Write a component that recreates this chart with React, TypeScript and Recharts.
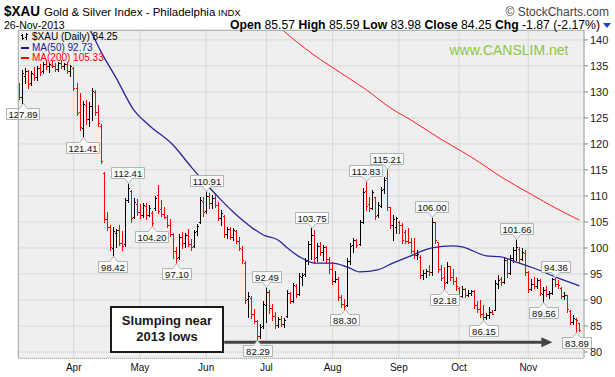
import React from "react";
import {
  ComposedChart,
  Bar,
  Line,
  XAxis,
  YAxis,
  CartesianGrid,
  ReferenceLine,
  ReferenceDot,
} from "recharts";

const FONT = "'Liberation Sans', Arial, sans-serif";

// x axis: first trading day of each month (bar index) and its label
const monthLabels = ["Apr", "May", "Jun", "Jul", "Aug", "Sep", "Oct", "Nov"];
const monthStartIdx = [18, 40, 62, 82, 104, 126, 146, 169];
const priceTicks = [80, 85, 90, 95, 100, 105, 110, 115, 120, 125, 130, 135, 140];

// daily bars 5-Mar-2013 .. 26-Nov-2013 : [open, high, low, close]
const bars: number[][] = [
  [131.2, 131.7, 128.6, 129.0], [129.0, 134.3, 127.89, 133.6], [133.0, 134.6, 131.8, 134.0],
  [134.0, 134.2, 130.8, 131.6], [131.8, 134.0, 131.4, 133.6], [133.4, 134.8, 132.3, 132.8],
  [132.8, 135.0, 132.2, 134.6], [134.6, 135.4, 133.3, 133.8], [134.0, 135.8, 133.6, 135.4],
  [135.4, 136.2, 134.4, 134.9], [134.9, 135.6, 133.8, 135.4], [135.2, 136.0, 134.8, 135.0],
  [135.0, 135.6, 134.0, 134.4], [134.4, 135.8, 134.0, 135.5], [135.5, 136.1, 134.6, 135.0],
  [135.0, 135.6, 134.4, 135.4], [135.4, 135.8, 133.6, 134.0], [134.0, 135.2, 133.0, 134.9],
  // Apr
  [134.5, 134.8, 130.4, 130.8], [130.8, 131.7, 125.5, 126.0], [126.2, 129.8, 122.6, 123.2],
  [123.0, 128.2, 121.41, 127.6], [127.5, 128.5, 123.8, 124.8], [124.8, 128.0, 123.5, 127.2],
  [127.2, 130.8, 124.6, 130.2], [130.0, 130.4, 125.6, 126.2], [126.2, 127.4, 123.4, 124.0],
  [123.5, 123.8, 116.3, 116.8], [114.4, 114.6, 105.0, 105.6], [105.6, 107.0, 103.5, 104.0],
  [104.0, 104.4, 99.6, 100.2], [100.0, 104.0, 98.42, 103.2], [102.8, 103.6, 100.2, 103.4],
  [103.4, 104.4, 100.6, 101.0], [101.0, 103.2, 99.6, 100.4], [100.8, 109.6, 100.4, 109.2],
  [109.2, 112.41, 108.8, 111.6], [111.0, 111.2, 105.0, 105.8], [106.0, 109.6, 105.8, 108.8],
  // May
  [108.5, 109.4, 106.4, 107.0], [107.0, 108.4, 105.8, 106.4], [106.4, 108.6, 106.0, 108.2],
  [108.0, 108.6, 105.6, 106.4], [106.4, 108.2, 106.2, 107.6], [106.8, 107.2, 104.2, 104.8],
  [107.6, 110.0, 107.3, 109.6], [110.2, 112.2, 106.8, 107.2], [107.4, 109.2, 106.2, 106.6],
  [106.6, 107.8, 105.8, 106.0], [106.0, 106.3, 104.0, 104.4], [104.4, 105.5, 102.3, 102.6],
  [102.6, 102.9, 98.0, 99.4], [99.4, 100.2, 97.1, 98.0], [98.2, 102.6, 97.8, 102.2],
  [102.2, 103.0, 100.0, 101.0], [101.0, 102.8, 100.2, 102.4], [102.4, 103.6, 100.4, 100.8],
  [100.8, 101.8, 99.6, 100.2], [100.4, 103.4, 100.2, 103.0], [103.2, 104.6, 102.4, 104.2],
  [105.0, 109.8, 104.8, 109.2], [109.0, 109.8, 106.2, 107.0],
  // Jun
  [107.2, 110.91, 106.8, 110.0], [110.0, 110.5, 107.6, 108.6], [108.6, 110.2, 107.6, 109.6],
  [109.6, 110.4, 107.8, 108.2], [108.2, 108.8, 105.4, 105.8], [105.8, 107.3, 104.4, 106.8],
  [106.2, 106.3, 102.1, 102.6], [102.6, 104.0, 102.0, 103.6], [103.6, 104.0, 101.8, 102.2],
  [102.2, 103.8, 101.6, 103.4], [103.2, 103.4, 101.0, 101.4], [101.4, 102.2, 99.6, 100.0],
  [99.8, 100.4, 97.2, 97.6], [97.2, 97.4, 89.4, 90.0], [90.2, 91.5, 86.8, 90.8],
  [90.4, 90.8, 86.6, 87.4], [87.4, 88.2, 85.6, 86.0], [86.0, 86.2, 82.29, 83.0],
  [83.0, 85.4, 82.6, 84.8], [85.0, 89.8, 84.6, 89.2],
  // Jul
  [89.0, 92.49, 85.8, 91.6], [91.6, 91.9, 87.5, 88.4], [88.4, 89.2, 86.2, 87.0],
  [87.0, 87.7, 84.6, 85.2], [85.2, 86.8, 84.8, 86.4], [86.4, 86.9, 85.0, 85.4],
  [85.4, 86.6, 84.8, 86.2], [87.0, 91.9, 86.7, 91.4], [91.4, 91.6, 89.4, 89.8],
  [89.8, 93.3, 89.6, 92.8], [92.6, 93.0, 90.6, 91.2], [91.2, 95.2, 91.0, 94.6],
  [94.4, 95.2, 92.8, 94.8], [95.0, 98.0, 94.6, 97.4], [97.6, 101.4, 97.0, 100.8],
  [100.8, 103.75, 97.8, 102.4], [102.4, 103.4, 97.2, 98.0], [98.2, 101.0, 97.4, 100.4],
  [100.4, 101.2, 98.7, 99.2], [99.2, 100.6, 97.6, 100.2], [100.2, 100.4, 97.2, 97.8],
  [97.8, 98.3, 95.2, 96.0],
  // Aug
  [96.0, 97.3, 93.0, 93.6], [93.6, 95.5, 93.4, 94.0], [94.0, 94.4, 90.0, 90.6],
  [90.6, 91.0, 88.6, 89.2], [89.2, 90.2, 88.3, 88.8], [89.0, 98.0, 88.9, 97.4],
  [97.4, 101.0, 97.0, 100.4], [100.6, 102.0, 99.2, 101.6], [101.6, 101.8, 100.2, 100.6],
  [100.8, 105.4, 100.6, 105.0], [105.0, 111.5, 104.8, 110.8], [111.0, 112.83, 107.3, 108.0],
  [108.4, 109.8, 107.2, 107.6], [107.6, 111.2, 107.4, 110.8], [109.8, 109.8, 105.6, 106.2],
  [106.4, 108.8, 106.0, 108.2], [108.0, 111.7, 107.9, 111.2], [111.4, 113.6, 110.6, 113.0],
  [113.4, 115.21, 107.3, 107.8], [107.8, 107.9, 103.8, 104.4], [104.4, 106.3, 101.5, 105.6],
  [104.0, 106.0, 102.9, 105.8],
  // Sep
  [105.0, 105.2, 102.9, 104.4], [104.4, 104.8, 101.0, 101.6], [103.0, 103.5, 101.0, 101.4],
  [101.4, 103.8, 101.0, 101.2], [101.2, 102.0, 99.0, 99.4], [99.4, 101.9, 98.1, 98.6],
  [98.6, 99.6, 97.8, 98.8], [98.2, 98.6, 94.2, 94.8], [94.8, 95.8, 94.0, 95.2],
  [95.2, 96.0, 94.4, 95.6], [95.6, 96.7, 94.8, 95.4], [95.4, 106.0, 94.8, 105.0],
  [105.0, 105.0, 101.0, 101.6], [101.2, 101.2, 95.4, 96.0], [96.0, 96.7, 93.8, 94.2],
  [94.4, 96.3, 92.18, 93.2], [93.4, 97.3, 93.2, 96.6], [96.6, 96.6, 93.8, 94.4],
  [94.4, 96.0, 93.0, 93.6], [93.6, 94.4, 92.0, 92.6],
  // Oct
  [92.4, 92.5, 90.4, 90.8], [90.8, 92.6, 90.6, 92.2], [92.2, 92.4, 90.6, 91.0],
  [91.0, 92.0, 90.8, 91.4], [91.4, 92.0, 91.0, 91.8], [91.8, 92.0, 88.5, 89.0],
  [89.0, 89.8, 87.6, 88.2], [88.2, 90.0, 86.7, 87.4], [87.4, 89.0, 86.15, 86.8],
  [86.8, 87.5, 86.4, 87.2], [87.2, 88.6, 86.6, 87.6], [87.6, 88.0, 87.3, 87.4],
  [88.0, 93.8, 88.0, 93.2], [93.0, 94.8, 92.3, 93.8], [94.0, 94.4, 92.8, 93.4],
  [93.4, 98.3, 93.2, 97.6], [97.6, 98.0, 94.4, 95.2], [95.2, 98.6, 95.0, 98.0],
  [98.0, 100.2, 97.3, 99.6], [99.6, 101.66, 97.7, 100.2], [99.8, 100.1, 97.3, 97.8],
  [97.8, 99.9, 97.6, 99.2], [99.0, 99.6, 94.8, 95.4],
  // Nov
  [95.4, 95.6, 91.5, 92.2], [92.2, 94.0, 92.0, 93.0], [93.0, 94.4, 92.3, 92.6],
  [92.6, 94.2, 92.3, 93.8], [93.8, 94.0, 91.0, 91.4], [91.2, 92.5, 89.56, 92.0],
  [92.0, 92.6, 90.8, 91.2], [91.2, 91.7, 90.4, 91.4], [91.4, 94.2, 91.2, 94.0],
  [94.0, 94.36, 92.7, 93.0], [93.0, 93.8, 92.4, 92.8], [92.4, 92.5, 90.4, 90.8],
  [90.8, 91.6, 90.2, 91.0], [91.0, 91.0, 87.7, 88.2], [87.8, 88.0, 85.4, 85.8],
  [85.8, 87.2, 85.4, 86.6], [86.4, 86.6, 83.89, 86.12], [85.57, 85.59, 83.98, 84.25],
];

// moving averages: [bar index, value]
const ma50: number[][] = [
  [22, 143.2], [24, 141.3], [27, 137.8], [32, 132.8], [38, 126.5], [43, 123.6], [51, 119.8],
  [57, 115.6], [62, 112.3], [67, 109.2], [71, 106.9], [77, 104.0], [81, 102.5], [86, 101.5],
  [89, 100.0], [93, 98.3], [98, 97.1], [104, 97.1], [109, 96.3], [113, 95.4], [119, 95.8],
  [124, 97.1], [130, 98.5], [137, 100.0], [144, 100.4], [147, 100.2], [155, 98.5], [160, 98.3],
  [165, 97.3], [171, 96.1], [179, 94.2], [186, 92.73],
];
const ma200: number[][] = [
  [86, 142.6], [90, 140.6], [95, 138.3], [100, 136.2], [105, 134.3], [110, 132.4], [115, 130.5],
  [123, 127.0], [130, 124.6], [140, 120.9], [150, 117.5], [161, 113.3], [170, 110.3],
  [178, 107.7], [186, 105.33],
];

// labelled swing highs / lows: [bar index, price]
const highLabels: number[][] = [
  [36, 112.41], [62, 110.91], [82, 92.49], [97, 103.75], [115, 112.83], [122, 115.21],
  [137, 106.0], [165, 101.66], [178, 94.36],
];
const lowLabels: number[][] = [
  [1, 127.89], [21, 121.41], [31, 98.42], [44, 104.2], [52, 97.1], [79, 82.29], [108, 88.3],
  [141, 92.18], [154, 86.15], [174, 89.56], [185, 83.89],
];

const data: any[] = bars.map(([o, h, l, c], i) => ({
  i,
  o,
  h,
  l,
  c,
  range: [l, h],
  up: i > 0 && c >= bars[i - 1][3],
}));
data.push({ i: bars.length });
ma50.forEach(([i, v]) => (data[i].ma50 = v));
ma200.forEach(([i, v]) => (data[i].ma200 = v));

function OhlcBar(props: any) {
  const { x, y, width, height, payload } = props;
  if (!payload || payload.h == null) return <g />;
  const top = Math.min(y, y + height);
  const bot = Math.max(y, y + height);
  const span = payload.h - payload.l || 1;
  const py = (v: number) => Math.round(top + ((payload.h - v) / span) * (bot - top));
  const cx = Math.round(x + width / 2);
  const t = Math.round(top);
  const b = Math.round(bot);
  return (
    <g fill={payload.up ? "#000000" : "#ff0000"} shapeRendering="crispEdges">
      <rect x={cx} y={t} width={1} height={Math.max(1, b - t + 1)} />
      <rect x={cx - 1} y={py(payload.o)} width={1} height={1} />
      <rect x={cx + 1} y={py(payload.c)} width={1} height={1} />
    </g>
  );
}

function Callout(props: any) {
  const { cx, cy, text, below } = props;
  if (cx == null || cy == null) return <g />;
  const w = Math.round(text.length * 4.7 + 5);
  const h = 11;
  const p = 5;
  const c = Math.round(cx) + 0.5;
  const left = Math.round(cx - w / 2) + 0.5;
  let d: string;
  let ty: number;
  if (below) {
    const top = Math.round(cy) + p + 0.5;
    d = `M${left},${top} H${c - 4} L${c},${top - p} L${c + 4},${top} H${left + w} V${top + h} H${left} Z`;
    ty = top + h - 2;
  } else {
    const bot = Math.round(cy) - p + 0.5;
    d = `M${left},${bot - h} H${left + w} V${bot} H${c + 4} L${c},${bot + p} L${c - 4},${bot} H${left} Z`;
    ty = bot - 2;
  }
  return (
    <g>
      <path d={d} fill="#fafafa" stroke="#a9b8b1" strokeWidth={1} />
      <text x={left + w / 2} y={ty} textAnchor="middle" fontSize={9.5} fontFamily={FONT} fill="#111">
        {text}
      </text>
    </g>
  );
}

function Arrow(props: any) {
  const { x1, y1, x2, y2 } = props;
  const head = 11;
  return (
    <g>
      <line x1={x1} y1={y1} x2={x2 - head + 1} y2={y2} stroke="#444" strokeWidth={3} />
      <path d={`M${x2 - head},${y2 - 5} L${x2},${y2} L${x2 - head},${y2 + 5} Z`} fill="#444" />
    </g>
  );
}

export default function App() {
  return (
    <div style={{ position: "absolute", left: 0, top: 0, width: 615, height: 377, background: "#fff" }}>
      <ComposedChart
        width={615}
        height={377}
        data={data}
        margin={{ top: 30, right: 0, bottom: 0, left: 18 }}
      >
        <CartesianGrid fill="#efefef" stroke="#d8d8d8" />
        <XAxis
          dataKey="i"
          type="category"
          ticks={monthStartIdx}
          interval={0}
          height={19}
          tickLine={false}
          axisLine={false}
          tickMargin={6}
          tickSize={0}
          tickFormatter={(v: any) => monthLabels[monthStartIdx.indexOf(Number(v))]}
          tick={{ fontSize: 10, fill: "#111", fontFamily: FONT }}
        />
        <YAxis
          orientation="right"
          type="number"
          width={31}
          domain={[78.85, 141.9]}
          allowDataOverflow
          ticks={priceTicks}
          interval={0}
          tickSize={4}
          tickMargin={2}
          axisLine={{ stroke: "#9fb0a9" }}
          tickLine={{ stroke: "#7f8f89" }}
          tick={{ fontSize: 11, fill: "#222", fontFamily: FONT, textAnchor: "start" }}
        />
        <Bar dataKey="range" shape={OhlcBar} isAnimationActive={false} />
        <Line
          dataKey="ma200"
          type="monotone"
          stroke="#ff1f1f"
          strokeWidth={1}
          dot={false}
          activeDot={false}
          connectNulls
          isAnimationActive={false}
        />
        <Line
          dataKey="ma50"
          type="monotone"
          stroke="#27279a"
          strokeWidth={1.3}
          dot={false}
          activeDot={false}
          connectNulls
          isAnimationActive={false}
        />
        <ReferenceLine
          segment={[
            { x: 68, y: 81.9 },
            { x: 177, y: 81.9 },
          ]}
          shape={Arrow}
        />
        {highLabels.map(([i, v]) => (
          <ReferenceDot
            key={"h" + i}
            x={i}
            y={v}
            r={0}
            ifOverflow="visible"
            shape={(p: any) => <Callout {...p} text={v.toFixed(2)} below={false} />}
          />
        ))}
        {lowLabels.map(([i, v]) => (
          <ReferenceDot
            key={"l" + i}
            x={i}
            y={v}
            r={0}
            ifOverflow="visible"
            shape={(p: any) => <Callout {...p} text={v.toFixed(2)} below />}
          />
        ))}
      </ComposedChart>

      <svg
        width={615}
        height={377}
        style={{ position: "absolute", left: 0, top: 0, pointerEvents: "none" }}
        fontFamily={FONT}
      >
        {/* plot frame */}
        <path d="M18.5,357.5 V30.5 H584.5" fill="none" stroke="#a9b7b1" />
        <line x1={18} y1={358.5} x2={584} y2={358.5} stroke="#9fb0a9" strokeDasharray="1 1" />

        {/* header */}
        <text x={4} y={15.5} fontSize={15} fontWeight="bold" fill="#000" textLength={36} lengthAdjust="spacingAndGlyphs">
          $XAU
        </text>
        <text x={44} y={15.5} fontSize={11.5} fill="#000">Gold &amp; Silver Index - Philadelphia</text>
        <text x={218} y={15.5} fontSize={9.5} fill="#000">INDX</text>
        <text x={609} y={15.5} fontSize={12} textAnchor="end" fill="#444">© StockCharts.com</text>
        <text x={4} y={28.5} fontSize={10.5} fill="#000">26-Nov-2013</text>
        <text x={230} y={28.5} fontSize={12} fill="#000" textLength={370} lengthAdjust="spacingAndGlyphs">
          <tspan fontWeight="bold">Open</tspan>
          <tspan>{" 85.57 "}</tspan>
          <tspan fontWeight="bold">High</tspan>
          <tspan>{" 85.59 "}</tspan>
          <tspan fontWeight="bold">Low</tspan>
          <tspan>{" 83.98 "}</tspan>
          <tspan fontWeight="bold">Close</tspan>
          <tspan>{" 84.25 "}</tspan>
          <tspan fontWeight="bold">Chg</tspan>
          <tspan>{" -1.87 (-2.17%)"}</tspan>
        </text>
        <path d="M603,23 L611,23 L607,28 Z" fill="#1f3fd6" />

        {/* legend */}
        <g shapeRendering="crispEdges">
          <rect x={22} y={34} width={1} height={6} fill="#000" />
          <rect x={21} y={35} width={1} height={1} fill="#000" />
          <rect x={23} y={38} width={1} height={1} fill="#000" />
          <rect x={26} y={33} width={1} height={7} fill="#000" />
          <rect x={25} y={37} width={1} height={1} fill="#000" />
          <rect x={27} y={34} width={1} height={1} fill="#000" />
          <rect x={21} y={47} width={8} height={2} fill="#1a1a8c" />
          <rect x={21} y={57} width={8} height={2} fill="#ff0000" />
        </g>
        <text x={32} y={40} fontSize={10} fill="#000">$XAU (Daily) 84.25</text>
        <text x={32} y={50.5} fontSize={10} fill="#1a1a8c">MA(50) 92.73</text>
        <text x={32} y={61} fontSize={10} fill="#ff0000">MA(200) 105.33</text>

        {/* watermark */}
        <text x={509} y={55} fontSize={14} textAnchor="middle" fill="#8dc63f">www.CANSLIM.net</text>

        {/* annotation */}
        <rect x={111} y={307} width={112} height={45} fill="#fff" stroke="#1a1a1a" strokeWidth={2} />
        <text x={167} y={324.5} fontSize={13} fontWeight="bold" textAnchor="middle" fill="#1a1a1a">
          Slumping near
        </text>
        <text x={167} y={341} fontSize={13} fontWeight="bold" textAnchor="middle" fill="#1a1a1a">
          2013 lows
        </text>
      </svg>
    </div>
  );
}
